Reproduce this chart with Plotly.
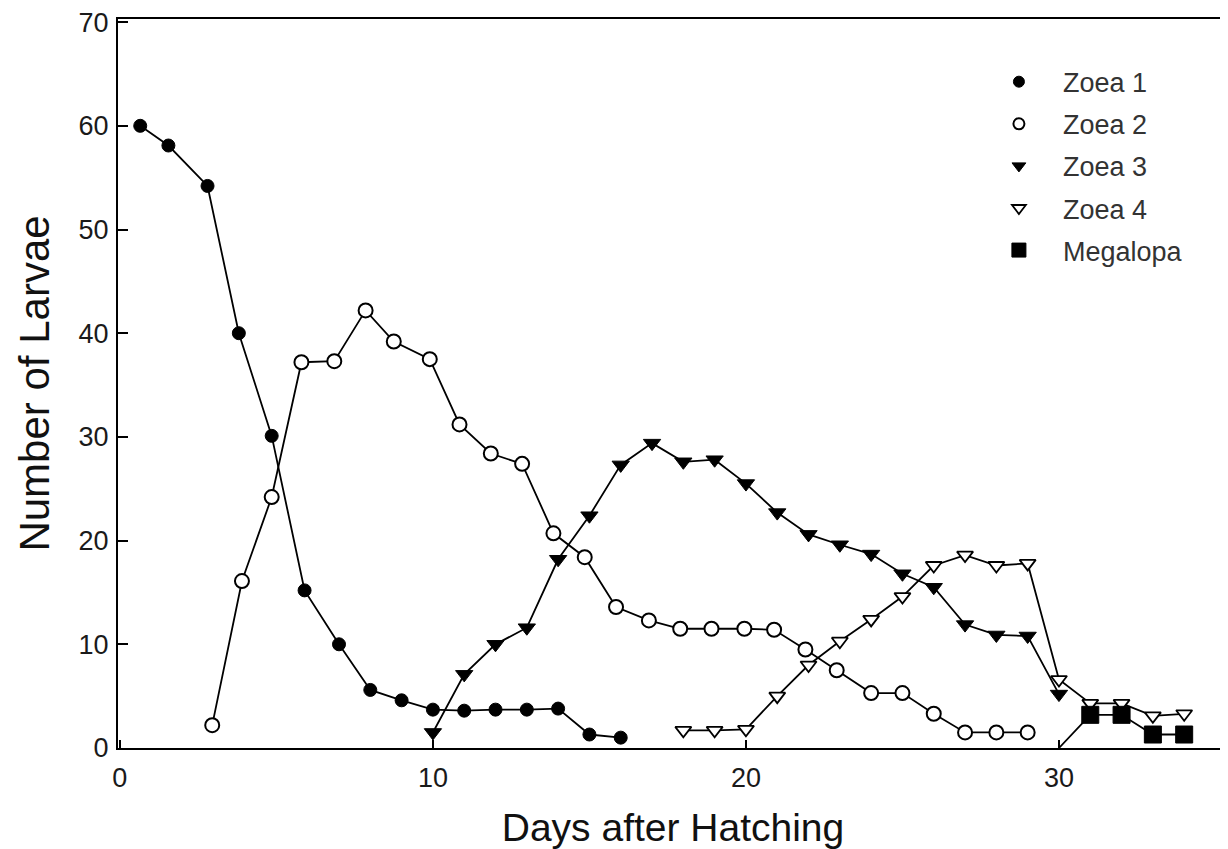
import plotly.graph_objects as go

# ---- data ----
z1_days = [0.65, 1.55, 2.8, 3.8, 4.85, 5.9, 7, 8, 9, 10, 11, 12, 13, 14, 15, 16]
z1_vals = [60, 58.1, 54.2, 40.0, 30.1, 15.2, 10.0, 5.6, 4.6, 3.7, 3.6, 3.7, 3.7, 3.8, 1.3, 1.0]

z2_days = [2.95, 3.9, 4.85, 5.8, 6.85, 7.85, 8.75, 9.9, 10.85, 11.85, 12.85, 13.85, 14.85,
           15.85, 16.9, 17.9, 18.9, 19.95, 20.9, 21.9, 22.9, 24, 25, 26, 27, 28, 29]
z2_vals = [2.2, 16.1, 24.2, 37.2, 37.3, 42.2, 39.2, 37.5, 31.2, 28.4, 27.4, 20.7, 18.4,
           13.6, 12.3, 11.5, 11.5, 11.5, 11.4, 9.5, 7.5, 5.3, 5.3, 3.3, 1.5, 1.5, 1.5]

z3_days = [10, 11, 12, 13, 14, 15, 16, 17, 18, 19, 20, 21, 22, 23, 24, 25, 26, 27, 28, 29, 30]
z3_vals = [1.5, 7.1, 10.0, 11.6, 18.2, 22.4, 27.3, 29.4, 27.6, 27.8, 25.5, 22.7, 20.6, 19.6,
           18.7, 16.8, 15.5, 11.9, 10.9, 10.8, 5.2]

z4_days = [18, 19, 20, 21, 22, 23, 24, 25, 26, 27, 28, 29, 30, 31, 32, 33, 34]
z4_vals = [1.7, 1.7, 1.8, 5.0, 8.0, 10.3, 12.4, 14.6, 17.6, 18.6, 17.6, 17.8, 6.6, 4.3, 4.3, 3.1, 3.3]

meg_days = [30, 31, 32, 33, 34]
meg_vals = [0, 3.2, 3.2, 1.3, 1.3]

series_names = ["Zoea 1", "Zoea 2", "Zoea 3", "Zoea 4", "Megalopa"]
x_ticks = [0, 10, 20, 30]
y_ticks = [0, 10, 20, 30, 40, 50, 60, 70]

FONT = "Liberation Sans, Arial, Helvetica, sans-serif"
LINE = dict(color="black", width=1.8)

styles = [
    dict(symbol="circle", color="black", line=dict(color="black", width=1)),
    dict(symbol="circle", color="white", line=dict(color="black", width=2)),
    dict(symbol="triangle-down", color="black", line=dict(color="black", width=1)),
    dict(symbol="triangle-down", color="white", line=dict(color="black", width=1.8)),
    dict(symbol="square", color="black", line=dict(color="black", width=1)),
]
data_sizes = [13, 14, 15, 14, [0, 17, 17, 17, 17]]
legend_sizes = [11, 11, 12, 12, 14]
series = [(z1_days, z1_vals), (z2_days, z2_vals), (z3_days, z3_vals),
          (z4_days, z4_vals), (meg_days, meg_vals)]

fig = go.Figure()
for i, (name, (xs, ys)) in enumerate(zip(series_names, series)):
    fig.add_trace(go.Scatter(x=xs, y=ys, name=name, mode="lines+markers", line=LINE,
                             showlegend=False, legendgroup=name,
                             marker=dict(size=data_sizes[i], opacity=1, **styles[i])))
for i, name in enumerate(series_names):
    fig.add_trace(go.Scatter(x=[None], y=[None], name=name, mode="markers",
                             showlegend=True, legendgroup=name,
                             marker=dict(size=legend_sizes[i], opacity=1, **styles[i])))

fig.update_layout(
    width=1220, height=841,
    margin=dict(l=110, r=0, t=7, b=101),
    paper_bgcolor="white", plot_bgcolor="white",
    font=dict(family=FONT, color="#1a1a1a", size=25),
    showlegend=True,
    legend=dict(x=0.772, y=0.947, xanchor="left", yanchor="top",
                bgcolor="rgba(0,0,0,0)", borderwidth=0,
                font=dict(family=FONT, size=27, color="#333333"),
                itemwidth=78, tracegroupgap=4),
)
fig.update_xaxes(
    range=[-0.06, 35.4], tickvals=x_ticks, ticktext=[str(v) for v in x_ticks],
    showgrid=False, zeroline=False, showline=True, linecolor="black", linewidth=2,
    mirror=True, ticks="inside", ticklen=8, tickwidth=1.5, tickcolor="black",
    tickfont=dict(size=27, family=FONT, color="#1a1a1a"), ticklabelstandoff=5,
    title=dict(text="Days after Hatching", font=dict(size=39, family=FONT, color="#111111"),
               standoff=28),
)
fig.update_yaxes(
    range=[0, 70.3], tickvals=y_ticks, ticktext=[str(v) for v in y_ticks],
    showgrid=False, zeroline=False, showline=True,
    linecolor="black", linewidth=2, mirror=False,
    ticks="inside", ticklen=10, tickwidth=1.5, tickcolor="black",
    tickfont=dict(size=27, family=FONT, color="#1a1a1a"), ticklabelstandoff=2,
    ticklabeloverflow="allow",
    title=dict(text="Number of Larvae", font=dict(size=42, family=FONT, color="#111111"),
               standoff=16),
)

fig.write_html("out.html")
